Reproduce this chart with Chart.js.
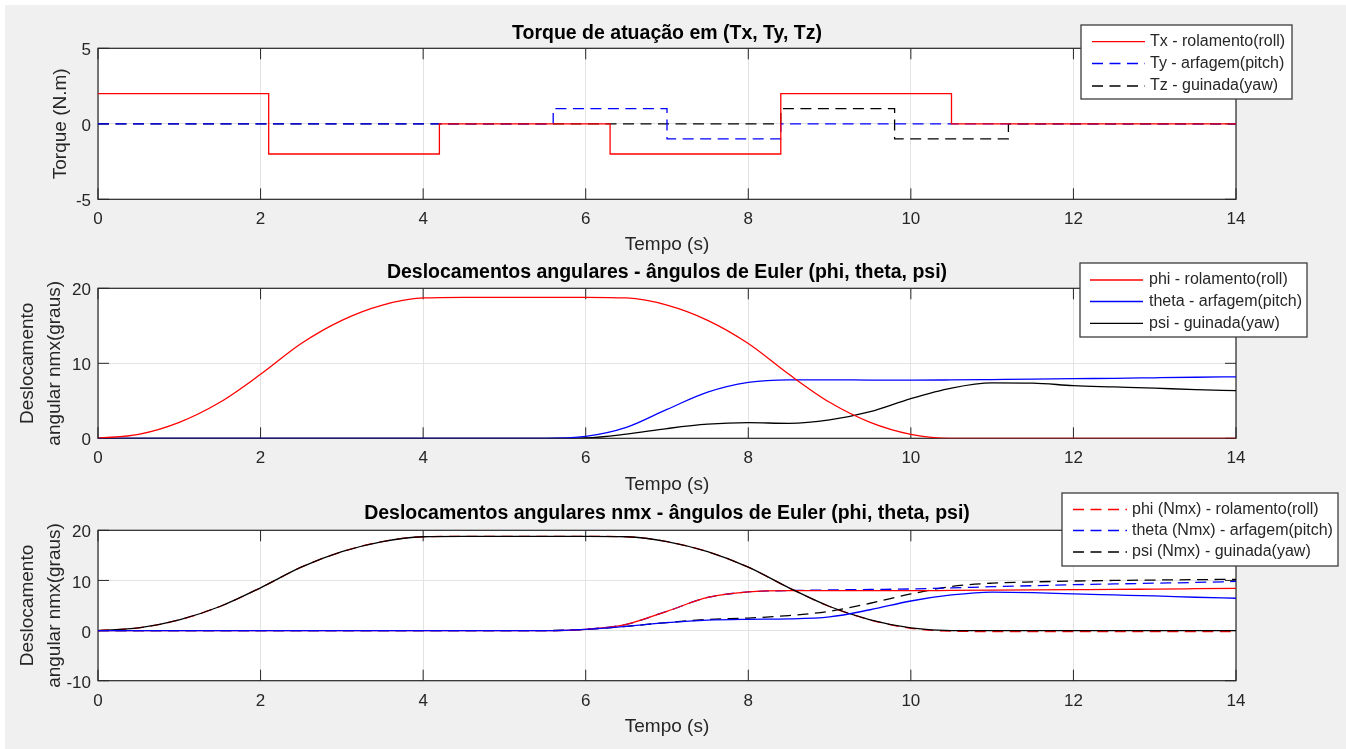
<!DOCTYPE html>
<html>
<head>
<meta charset="utf-8">
<script src="https://cdn.jsdelivr.net/npm/chart.js@4.4.1/dist/chart.umd.min.js"></script>
<style>
  html, body { margin: 0; padding: 0; background: #fff; overflow: hidden; }
  #fig { position: absolute; left: 5px; top: 5px; width: 1341px; height: 744px; background: #f0f0f0; }
  canvas { position: absolute; left: 0; top: 0; }
</style>
</head>
<body>
<div id="fig"></div>
<canvas id="torqueChart" width="1346" height="749"></canvas>
<canvas id="eulerChart" width="1346" height="749"></canvas>
<canvas id="nmxChart" width="1346" height="749"></canvas>
<script>
// torques (degraus): cada ponto marca o instante em que o valor muda
const tempoTx = [0, 2.1, 4.2, 6.3, 8.4, 10.5, 14];
const torqueTx = [2, -2, 0, -2, 2, 0, 0];
const tempoTy = [0, 5.6, 7.0, 8.4, 14];
const torqueTy = [0, 1, -1, 0, 0];
const tempoTz = [0, 8.4, 9.8, 11.2, 14];
const torqueTz = [0, 1, -1, 0, 0];

// angulos de Euler (graus), amostrados a cada 0.5 s
const tempo = [0, 0.5, 1, 1.5, 2, 2.5, 3, 3.5, 4, 4.5, 5, 5.5, 6, 6.5, 7,
  7.5, 8, 8.5, 9, 9.5, 10, 10.5, 11, 11.5, 12, 12.5, 13, 13.5, 14];
const phi = [0, 0.53, 2.13, 4.8, 8.53, 12.64, 15.73, 17.76, 18.71, 18.8, 18.8, 18.8, 18.8, 18.71, 17.76,
  15.73, 12.64, 8.53, 4.8, 2.13, 0.53, 0, 0, 0, 0, 0, 0, 0, 0];
const theta = [0, 0, 0, 0, 0, 0, 0, 0, 0, 0, 0, 0, 0.25, 1.45, 3.85,
  6.15, 7.45, 7.8, 7.8, 7.76, 7.75, 7.78, 7.83, 7.88, 7.95, 8.0, 8.07, 8.14, 8.2];
const psi = [0, 0, 0, 0, 0, 0, 0, 0, 0, 0, 0, 0, 0.05, 0.55, 1.3,
  1.88, 2.08, 2.0, 2.45, 3.55, 5.3, 6.7, 7.38, 7.35, 7.02, 6.85, 6.68, 6.5, 6.35];

// terceiro grafico: curvas continuas e curvas nmx (tracejadas)
const curvaVermelha = [0, 0, 0, 0, 0, 0, 0, 0, 0, 0, 0, 0, 0.25, 1.25, 3.85,
  6.6, 7.7, 7.95, 7.95, 7.95, 7.95, 8.0, 8.05, 8.1, 8.15, 8.2, 8.28, 8.35, 8.42];
const curvaAzul = [0, 0, 0, 0, 0, 0, 0, 0, 0, 0, 0, 0, 0.25, 0.85, 1.6,
  2.1, 2.25, 2.32, 2.72, 4.15, 5.9, 7.1, 7.68, 7.56, 7.3, 7.1, 6.9, 6.65, 6.45];
const phiNmx = [0, 0.53, 2.13, 4.8, 8.53, 12.64, 15.73, 17.76, 18.71, 18.8, 18.8, 18.8, 18.8, 18.71, 17.76,
  15.73, 12.64, 8.53, 4.8, 2.13, 0.45, -0.12, -0.2, -0.22, -0.22, -0.22, -0.22, -0.22, -0.22];
const thetaNmx = [0, 0, 0, 0, 0, 0, 0, 0, 0, 0, 0, 0, 0.25, 1.25, 3.85,
  6.6, 7.7, 7.98, 8.1, 8.2, 8.3, 8.5, 8.75, 8.95, 9.15, 9.3, 9.45, 9.6, 9.8];
const psiNmx = [0, 0, 0, 0, 0, 0, 0, 0, 0, 0, 0, 0, 0.25, 0.85, 1.6,
  2.2, 2.5, 3.0, 3.85, 5.45, 7.3, 8.8, 9.45, 9.7, 9.88, 10.0, 10.08, 10.15, 10.22];

const ticksTempo = [0, 2, 4, 6, 8, 10, 12, 14];
const ticksTorque = [-5, 0, 5];
const ticksDesloc = [0, 10, 20];
const ticksNmx = [-10, 0, 10, 20];

const FONTE = "'Liberation Sans', Arial, Helvetica, sans-serif";
const TINTA = "#262626";
const GRADE = "#e3e3e3";
const TRACO = [11, 6.5];

const pontos = (xs, ys) => xs.map((x, i) => ({ x: x, y: ys[i] }));

function serie(label, xs, ys, cor, tracejado, extra) {
  return Object.assign({
    label: label,
    data: pontos(xs, ys),
    borderColor: cor,
    borderWidth: 1.3,
    borderDash: tracejado ? TRACO : [],
    pointRadius: 0,
    fill: false,
  }, extra);
}

// fundo branco, caixa dos eixos e ticks para dentro (estilo matlab)
const caixaEixos = {
  id: "caixaEixos",
  beforeDraw(chart) {
    const a = chart.chartArea;
    chart.ctx.save();
    chart.ctx.fillStyle = "#fff";
    chart.ctx.fillRect(a.left, a.top, a.width, a.height);
    chart.ctx.restore();
  },
  beforeDatasetsDraw(chart) {
    const { ctx, chartArea: a, scales } = chart;
    const tam = 11;
    ctx.save();
    ctx.strokeStyle = TINTA;
    ctx.lineWidth = 1;
    ctx.beginPath();
    scales.x.ticks.forEach((t) => {
      const px = scales.x.getPixelForValue(t.value);
      ctx.moveTo(px, a.bottom);
      ctx.lineTo(px, a.bottom - tam);
      ctx.moveTo(px, a.top);
      ctx.lineTo(px, a.top + tam);
    });
    scales.y.ticks.forEach((t) => {
      const py = scales.y.getPixelForValue(t.value);
      ctx.moveTo(a.left, py);
      ctx.lineTo(a.left + tam, py);
      ctx.moveTo(a.right, py);
      ctx.lineTo(a.right - tam, py);
    });
    ctx.stroke();
    ctx.lineWidth = 1.2;
    ctx.strokeRect(a.left, a.top, a.width, a.height);
    ctx.restore();
  },
};

// legenda com caixa, desenhada por cima de tudo
const legendaCaixa = {
  id: "legendaCaixa",
  afterDraw(chart, args, o) {
    const ctx = chart.ctx;
    ctx.save();
    ctx.fillStyle = "#fff";
    ctx.fillRect(o.x, o.y, o.w, o.h);
    ctx.strokeStyle = "#3c3c3c";
    ctx.lineWidth = 1.3;
    ctx.strokeRect(o.x, o.y, o.w, o.h);
    ctx.font = "16px " + FONTE;
    ctx.textBaseline = "middle";
    o.linhas.forEach((y, i) => {
      const ds = chart.data.datasets[i];
      ctx.strokeStyle = ds.borderColor;
      ctx.lineWidth = ds.borderWidth;
      ctx.setLineDash(ds.borderDash || []);
      ctx.beginPath();
      ctx.moveTo(o.traco[0], y);
      ctx.lineTo(o.traco[1], y);
      ctx.stroke();
      ctx.setLineDash([]);
      ctx.fillStyle = TINTA;
      ctx.fillText(ds.label, o.texto, y);
    });
    ctx.restore();
  },
};

function opcoes(c) {
  return {
    responsive: false,
    animation: false,
    events: [],
    layout: { padding: { left: 0, right: 110, top: c.topo, bottom: c.base } },
    plugins: {
      legend: { display: false },
      tooltip: { enabled: false },
      title: {
        display: true,
        text: c.titulo,
        fullSize: false,
        color: "#000",
        font: { family: FONTE, size: 19.5, weight: "bold", lineHeight: 1.2 },
        padding: { top: 0, bottom: c.vaoTitulo },
      },
      legendaCaixa: c.legenda,
    },
    scales: {
      x: {
        type: "linear",
        min: 0,
        max: 14,
        afterBuildTicks: (s) => { s.ticks = ticksTempo.map((v) => ({ value: v })); },
        afterFit: (s) => { s.height = c.alturaX; },
        grid: { color: GRADE, drawTicks: false },
        border: { display: false },
        ticks: { color: TINTA, font: { family: FONTE, size: 17 }, padding: 10, maxRotation: 0 },
        title: {
          display: true,
          text: "Tempo (s)",
          color: TINTA,
          font: { family: FONTE, size: 19, lineHeight: 1.2 },
          padding: 0,
        },
      },
      y: {
        type: "linear",
        min: c.yMin,
        max: c.yMax,
        afterBuildTicks: (s) => { s.ticks = c.ticksY.map((v) => ({ value: v })); },
        afterFit: (s) => { s.width = 98; },
        grid: { color: GRADE, drawTicks: false },
        border: { display: false },
        ticks: { color: TINTA, font: { family: FONTE, size: 17 }, padding: 7, labelOffset: 2.5 },
        title: {
          display: true,
          text: c.rotuloY,
          color: TINTA,
          font: { family: FONTE, size: 19, lineHeight: c.alturaLinhaY },
          padding: { top: c.vaoRotuloY, bottom: 0 },
        },
      },
    },
  };
}

const suave = { cubicInterpolationMode: "monotone" };
const degrau = { stepped: true };
// no terceiro grafico: tracejadas por baixo, azul continua por cima de tudo
const camada = (n) => ({ cubicInterpolationMode: "monotone", order: n });

new Chart(document.getElementById("torqueChart"), {
  type: "line",
  data: {
    datasets: [
      serie("Tx - rolamento(roll)", tempoTx, torqueTx, "#ff0000", false, degrau),
      serie("Ty - arfagem(pitch)", tempoTy, torqueTy, "#0000ff", true, degrau),
      serie("Tz - guinada(yaw)", tempoTz, torqueTz, "#000000", true, degrau),
    ],
  },
  options: opcoes({
    topo: 21.5, vaoTitulo: 3.4, base: 493.2, alturaX: 56.5,
    titulo: "Torque de atuação em (Tx, Ty, Tz)",
    yMin: -5, yMax: 5, ticksY: ticksTorque,
    rotuloY: "Torque (N.m)", alturaLinhaY: 1.2, vaoRotuloY: 49.5,
    legenda: { x: 1081, y: 25, w: 211, h: 74, linhas: [41.7, 63.5, 86], traco: [1092, 1145], texto: 1150 },
  }),
  plugins: [caixaEixos, legendaCaixa],
});

new Chart(document.getElementById("eulerChart"), {
  type: "line",
  data: {
    datasets: [
      serie("phi - rolamento(roll)", tempo, phi, "#ff0000", false, suave),
      serie("theta - arfagem(pitch)", tempo, theta, "#0000ff", false, suave),
      serie("psi - guinada(yaw)", tempo, psi, "#000000", false, suave),
    ],
  },
  options: opcoes({
    topo: 260.8, vaoTitulo: 4.1, base: 252.5, alturaX: 58.2,
    titulo: "Deslocamentos angulares - ângulos de Euler (phi, theta, psi)",
    yMin: 0, yMax: 20, ticksY: ticksDesloc,
    rotuloY: ["Deslocamento", "angular nmx(graus)"], alturaLinhaY: 1.4, vaoRotuloY: 14.4,
    legenda: { x: 1080, y: 263, w: 227, h: 74, linhas: [280, 301.5, 323.3], traco: [1090, 1143], texto: 1149 },
  }),
  plugins: [caixaEixos, legendaCaixa],
});

new Chart(document.getElementById("nmxChart"), {
  type: "line",
  data: {
    datasets: [
      serie("phi (Nmx) - rolamento(roll)", tempo, phiNmx, "#ff0000", true, camada(2)),
      serie("theta (Nmx) - arfagem(pitch)", tempo, thetaNmx, "#0000ff", true, camada(2)),
      serie("psi (Nmx) - guinada(yaw)", tempo, psiNmx, "#000000", true, camada(2)),
      serie("phi", tempo, phi, "#000000", false, camada(1)),
      serie("theta", tempo, curvaVermelha, "#ff0000", false, camada(1)),
      serie("psi", tempo, curvaAzul, "#0000ff", false, camada(0)),
    ],
  },
  options: opcoes({
    topo: 501.8, vaoTitulo: 5.1, base: 10.8, alturaX: 57.5,
    titulo: "Deslocamentos angulares nmx - ângulos de Euler (phi, theta, psi)",
    yMin: -10, yMax: 20, ticksY: ticksNmx,
    rotuloY: ["Deslocamento", "angular nmx(graus)"], alturaLinhaY: 1.4, vaoRotuloY: 14.4,
    legenda: { x: 1062, y: 493, w: 276, h: 73, linhas: [509.5, 530.5, 552], traco: [1073, 1127], texto: 1132 },
  }),
  plugins: [caixaEixos, legendaCaixa],
});
</script>
</body>
</html>
